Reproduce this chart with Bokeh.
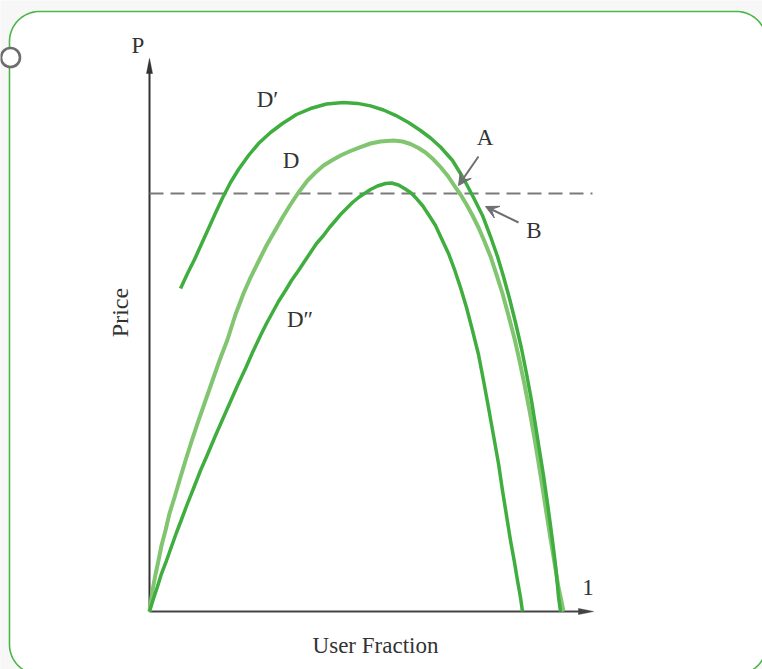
import numpy as np
from bokeh.plotting import figure
from bokeh.models import Range1d, Arrow, VeeHead
from bokeh.embed import file_html
from bokeh.resources import INLINE
from bokeh.core.properties import value

# ---------------- data (x = user fraction, y = price; reservation price = 1) -------------
dprime_x = [0.0751, 0.0920, 0.1090, 0.1259, 0.1429, 0.1598, 0.1768, 0.1961, 0.2155, 0.2397,
            0.2639, 0.2930, 0.3220, 0.3559, 0.3898, 0.4286, 0.4697, 0.5036, 0.5351, 0.5666,
            0.5956, 0.6271, 0.6562, 0.6804, 0.7046, 0.7337, 0.7603, 0.7845, 0.8063, 0.8257,
            0.8426, 0.8571, 0.8717, 0.8862, 0.9007, 0.9128, 0.9249, 0.9346, 0.9443, 0.9540,
            0.9637, 0.9709, 0.9782, 0.9831, 0.9879, 0.9903, 0.9952]
dprime_y = [0.7727, 0.8086, 0.8421, 0.8792, 0.9163, 0.9533, 0.9892, 1.0263, 1.0574, 1.0909,
            1.1196, 1.1459, 1.1675, 1.1890, 1.2033, 1.2141, 1.2177, 1.2156, 1.2096, 1.1998,
            1.1871, 1.1699, 1.1507, 1.1328, 1.1112, 1.0789, 1.0359, 0.9904, 0.9474, 0.8971,
            0.8493, 0.8014, 0.7488, 0.6914, 0.6292, 0.5694, 0.5048, 0.4450, 0.3852, 0.3254,
            0.2584, 0.2057, 0.1507, 0.1100, 0.0622, 0.0359, 0.0]

d_x = [0.0, 0.0073, 0.0145, 0.0218, 0.0291, 0.0387, 0.0484, 0.0605, 0.0726, 0.0872,
       0.1017, 0.1186, 0.1356, 0.1525, 0.1695, 0.1889, 0.2082, 0.2276, 0.2446, 0.2639,
       0.2833, 0.3027, 0.3220, 0.3414, 0.3608, 0.3826, 0.4019, 0.4213, 0.4431, 0.4625,
       0.4867, 0.5109, 0.5351, 0.5593, 0.5908, 0.6126, 0.6320, 0.6513, 0.6683, 0.6877,
       0.7046, 0.7215, 0.7361, 0.7530, 0.7676, 0.7821, 0.7966, 0.8111, 0.8257, 0.8402,
       0.8547, 0.8692, 0.8838, 0.8959, 0.9080, 0.9201, 0.9322, 0.9419, 0.9516, 0.9613,
       0.9709, 0.9806, 0.9903, 0.9976, 1.0024]
d_y = [0.0, 0.0502, 0.0885, 0.1220, 0.1579, 0.1938, 0.2344, 0.2727, 0.3134, 0.3612,
       0.4067, 0.4569, 0.5048, 0.5526, 0.6005, 0.6507, 0.7105, 0.7608, 0.7990, 0.8373,
       0.8756, 0.9091, 0.9426, 0.9737, 1.0024, 1.0311, 1.0502, 1.0670, 1.0801, 1.0909,
       1.1017, 1.1112, 1.1196, 1.1244, 1.1268, 1.1244, 1.1184, 1.1089, 1.0981, 1.0813,
       1.0634, 1.0431, 1.0215, 0.9976, 0.9737, 0.9474, 0.9187, 0.8852, 0.8493, 0.8062,
       0.7608, 0.7081, 0.6531, 0.6005, 0.5431, 0.4809, 0.4139, 0.3565, 0.2967, 0.2344,
       0.1746, 0.1172, 0.0574, 0.0239, 0.0]

ddprime_x = [0.0, 0.0097, 0.0194, 0.0291, 0.0412, 0.0533, 0.0654, 0.0775, 0.0920, 0.1065,
             0.1235, 0.1404, 0.1598, 0.1768, 0.1961, 0.2131, 0.2324, 0.2494, 0.2688, 0.2833,
             0.2978, 0.3123, 0.3293, 0.3438, 0.3608, 0.3753, 0.3898, 0.4044, 0.4213, 0.4358,
             0.4504, 0.4649, 0.4794, 0.4915, 0.5061, 0.5206, 0.5351, 0.5521, 0.5714, 0.5860,
             0.6029, 0.6174, 0.6320, 0.6465, 0.6610, 0.6755, 0.6925, 0.7070, 0.7240, 0.7385,
             0.7530, 0.7676, 0.7821, 0.7966, 0.8087, 0.8208, 0.8329, 0.8450, 0.8547, 0.8644,
             0.8741, 0.8838, 0.8910, 0.8983, 0.9031]
ddprime_y = [0.0, 0.0311, 0.0598, 0.0909, 0.1220, 0.1555, 0.1890, 0.2201, 0.2584, 0.2943,
             0.3373, 0.3756, 0.4211, 0.4593, 0.5024, 0.5407, 0.5813, 0.6196, 0.6603, 0.6890,
             0.7153, 0.7416, 0.7679, 0.7919, 0.8158, 0.8373, 0.8589, 0.8804, 0.8995, 0.9187,
             0.9354, 0.9522, 0.9665, 0.9785, 0.9904, 1.0000, 1.0096, 1.0179, 1.0239, 1.0251,
             1.0203, 1.0120, 1.0024, 0.9880, 0.9713, 0.9498, 0.9234, 0.8923, 0.8565, 0.8182,
             0.7751, 0.7273, 0.6722, 0.6148, 0.5526, 0.4880, 0.4211, 0.3541, 0.2895, 0.2297,
             0.1699, 0.1172, 0.0742, 0.0335, 0.0]

reservation_price = 1.0
axis_x_end = 1.0751
axis_y_end = 1.3230
dash_x_end = 1.0726

label_text = ["D\u2032", "D", "D\u2033", "A", "B", "1"]
label_x = [0.2857, 0.3426, 0.3644, 0.8123, 0.9310, 1.0617]
label_y = [1.2248, 1.0789, 0.6985, 1.1339, 0.9114, 0.0574]

arrow_a = (0.7966, 1.0885, 0.7482, 1.0191)
arrow_b = (0.8935, 0.9306, 0.8136, 0.9689)

# ---------------- figure -------------
PXX, PXY = 413.0, 418.0          # pixels per data unit
X0, Y0 = 149, 611                 # origin in figure pixels
W, H = 762, 669

p = figure(width=W, height=H, output_backend="svg", toolbar_location=None,
           x_range=Range1d(-X0 / PXX, (W - X0) / PXX),
           y_range=Range1d(-(H - Y0) / PXY, Y0 / PXY),
           x_axis_type=None, y_axis_type=None, min_border=0)
p.grid.visible = False
p.outline_line_color = None
p.background_fill_color = "#f7f7f7"
p.border_fill_color = "#f7f7f7"


def to_data(sx, sy):
    sx = np.asarray(sx, dtype=float)
    sy = np.asarray(sy, dtype=float)
    return (sx - X0) / PXX, (Y0 - sy) / PXY


# rounded frame (decoration, built in page pixels)
def rounded_rect(l, t, r, b, rad, n=24):
    xs, ys = [], []
    corners = [(r - rad, t + rad, -np.pi / 2, 0), (r - rad, b - rad, 0, np.pi / 2),
               (l + rad, b - rad, np.pi / 2, np.pi), (l + rad, t + rad, np.pi, 1.5 * np.pi)]
    for cx, cy, a0, a1 in corners:
        a = np.linspace(a0, a1, n)
        xs.extend(cx + rad * np.cos(a))
        ys.extend(cy + rad * np.sin(a))
    return to_data(xs, ys)

fx, fy = rounded_rect(9, 11, 766, 674, 30)
p.patch(fx, fy, fill_color="white", line_color="#4cb648", line_width=1.6)

cx, cy = to_data([10], [57])
p.scatter(cx, cy, size=19, marker="circle", fill_color="white",
          line_color="#6d6d6d", line_width=2.6)

# axes
AX_COL = "#333333"
p.line([0, 0], [0, axis_y_end - 6 / PXY], line_color=AX_COL, line_width=2)
p.line([0, axis_x_end - 6 / PXX], [0, 0], line_color="#444444", line_width=2)
p.patch([0, -3 / PXX, 3 / PXX], [axis_y_end, axis_y_end - 15 / PXY, axis_y_end - 15 / PXY],
        fill_color=AX_COL, line_color=AX_COL, line_width=0.5)
p.patch([axis_x_end, axis_x_end - 15 / PXX, axis_x_end - 15 / PXX], [0, 3 / PXY, -3 / PXY],
        fill_color="#444444", line_color="#444444", line_width=0.5)

# reservation price dashed line
p.line([0, dash_x_end], [reservation_price, reservation_price], line_color="#7a7a7a",
       line_width=2, line_dash="14 7")

DARK = "#3fae3f"
LIGHT = "#82c570"
p.line(d_x, d_y, line_color=LIGHT, line_width=4, line_join="round")
p.line(ddprime_x, ddprime_y, line_color=DARK, line_width=3.5, line_join="round")
p.line(dprime_x, dprime_y, line_color=DARK, line_width=3.5, line_join="round")

for (x0, y0, x1, y1) in (arrow_a, arrow_b):
    p.add_layout(Arrow(x_start=x0, y_start=y0, x_end=x1, y_end=y1,
                       line_color="#6d6e71", line_width=2,
                       end=VeeHead(size=13, fill_color="#6d6e71", line_color="#6d6e71",
                                   line_width=1)))

FONT = value("Liberation Serif")
TXT = "#333333"
p.text(label_x, label_y, text=label_text, text_font=FONT, text_font_size="23px",
       text_color=TXT, text_align="center", text_baseline="alphabetic")

p.text([-0.0278], [1.3540], text=["P"], text_font=FONT, text_font_size="23px",
       text_color=TXT, text_align="center", text_baseline="alphabetic")
p.text([0.5472], [-0.0813], text=["User Fraction"], text_font=FONT, text_font_size="23px",
       text_color=TXT, text_align="center", text_baseline="alphabetic")
p.text([-0.0726], [0.7153], text=["Price"], text_font=FONT, text_font_size="24px",
       text_color=TXT, text_align="center", text_baseline="alphabetic", angle=np.pi / 2)

open("out.html", "w").write(file_html(p, INLINE))
